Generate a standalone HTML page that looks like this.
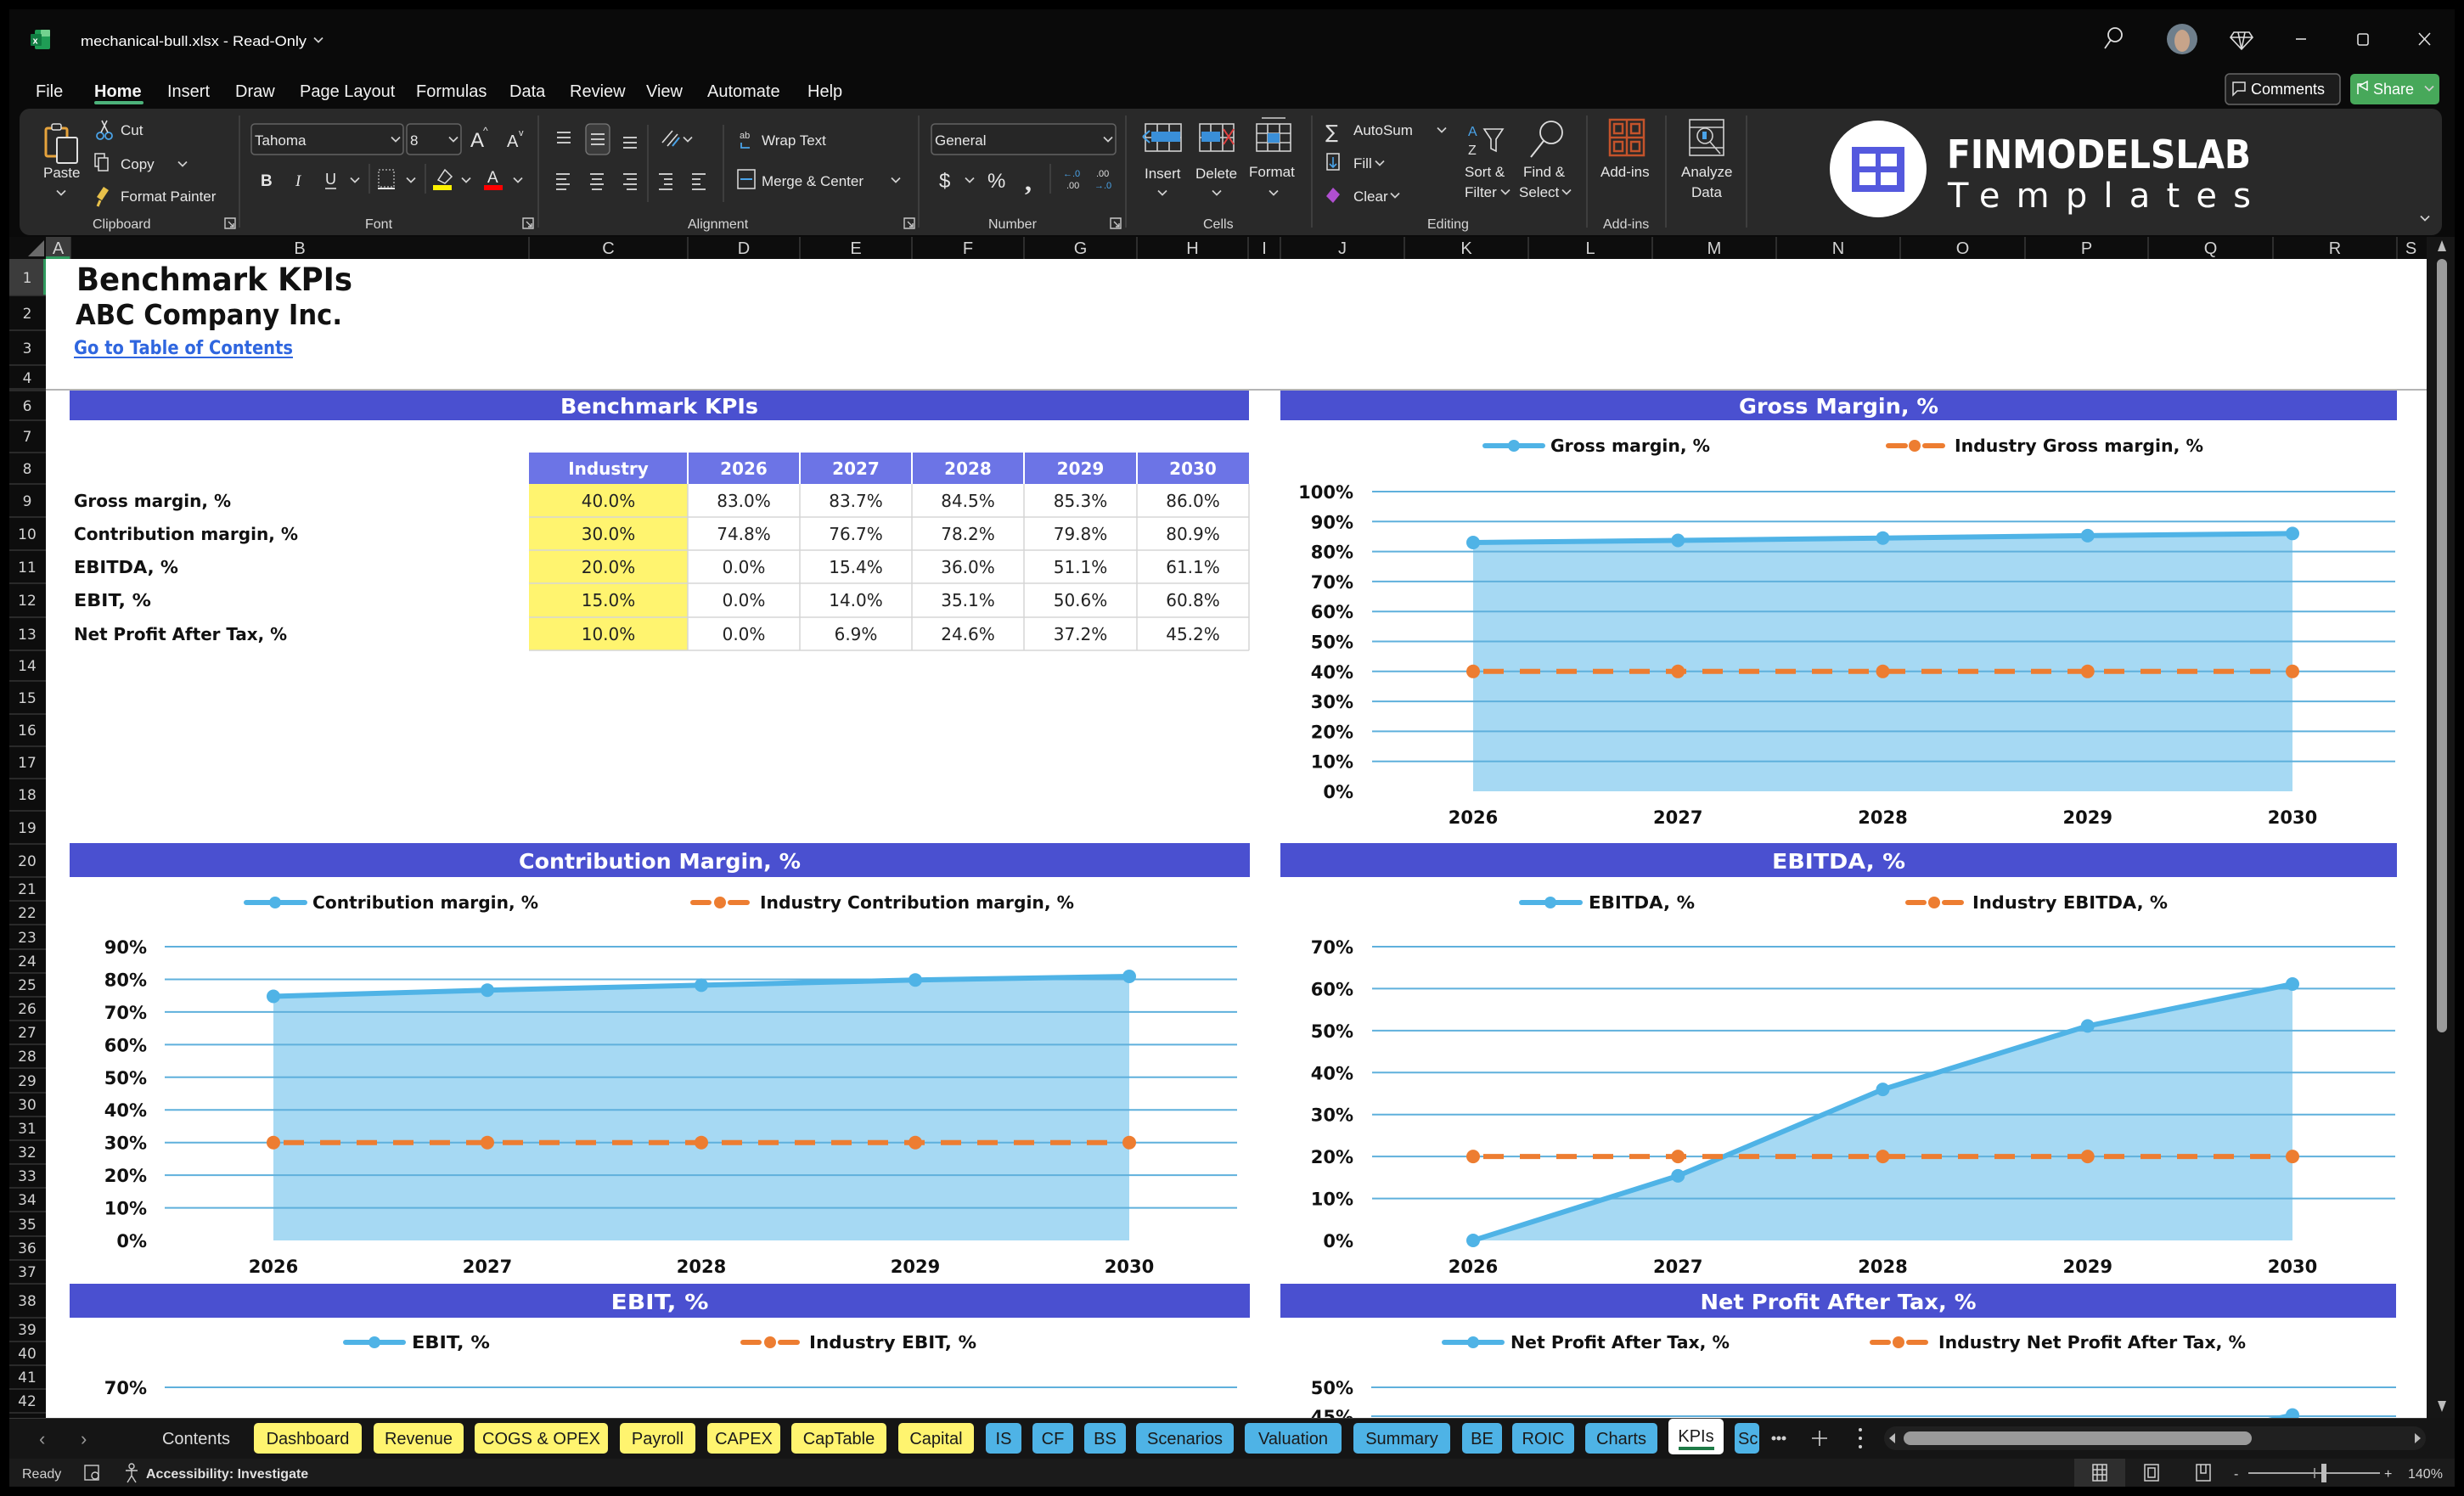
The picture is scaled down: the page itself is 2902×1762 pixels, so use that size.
<!DOCTYPE html>
<html><head><meta charset="utf-8">
<style>
html,body{margin:0;padding:0;background:#000;}
body{width:2902px;height:1762px;overflow:hidden;}
svg{display:block;}
.rb{font-family:"Liberation Sans",sans-serif;font-size:17px;fill:#e6e6e6;}
.gl{font-family:"Liberation Sans",sans-serif;font-size:16px;fill:#d6d6d6;}
.mn{font-family:"Liberation Sans",sans-serif;font-size:20px;fill:#f2f2f2;}
.hd{font-family:"Liberation Sans",sans-serif;font-size:20px;fill:#d2d2d2;text-anchor:middle;}
.rn{font-family:"DejaVu Sans",sans-serif;font-size:17px;fill:#d2d2d2;text-anchor:middle;}
.bt{font-family:"DejaVu Sans",sans-serif;font-weight:bold;font-size:25px;fill:#fff;}
.lg{font-family:"DejaVu Sans",sans-serif;font-weight:bold;font-size:20.5px;fill:#111;}
.yl{font-family:"DejaVu Sans",sans-serif;font-weight:bold;font-size:21px;fill:#111;text-anchor:end;}
.xl{font-family:"DejaVu Sans",sans-serif;font-weight:bold;font-size:21px;fill:#111;text-anchor:middle;}
.th{font-family:"DejaVu Sans",sans-serif;font-weight:bold;font-size:20px;fill:#fff;text-anchor:middle;}
.tv{font-family:"DejaVu Sans",sans-serif;font-size:20px;fill:#222;text-anchor:middle;}
.tl{font-family:"DejaVu Sans",sans-serif;font-weight:bold;font-size:20px;fill:#111;}
.tab{font-family:"Liberation Sans",sans-serif;font-size:20px;fill:#1a1a1a;text-anchor:middle;}
.st{font-family:"Liberation Sans",sans-serif;font-size:16px;fill:#d0d0d0;}
</style></head><body>
<svg width="2902" height="1762" viewBox="0 0 2902 1762" xmlns="http://www.w3.org/2000/svg">
<defs>
<path id="chev" d="M-5,-2.5 L0,2.5 L5,-2.5" fill="none" stroke="#d0d0d0" stroke-width="1.7"/>
<path id="lnch" d="M-6,-6 h12 v12 h-12 z M-2,-2 l6,6 M4,0 v4 h-4" fill="none" stroke="#c8c8c8" stroke-width="1.4"/>
<clipPath id="sheet"><rect x="54" y="305" width="2804" height="1365"/></clipPath>
</defs>

<!-- background -->
<rect x="0" y="0" width="2902" height="1762" fill="#000"/>
<rect x="11" y="11" width="2880" height="1740" fill="#0a0a0a"/>

<!-- title bar -->
<rect x="41" y="35" width="18" height="23" rx="2" fill="#1f9d55"/>
<rect x="48" y="35" width="11" height="8" rx="1" fill="#72d28f"/>
<rect x="36" y="40" width="13" height="14" rx="1" fill="#107c41"/>
<text x="38.5" y="51.5" font-family="Liberation Sans" font-size="11" font-weight="bold" fill="#fff">x</text>
<text x="95" y="54" font-family="Liberation Sans,sans-serif" font-size="17" fill="#fff" textLength="266" lengthAdjust="spacingAndGlyphs">mechanical-bull.xlsx  -  Read-Only</text>
<use href="#chev" x="375" y="47"/>
<circle cx="2491" cy="41" r="8" fill="none" stroke="#ddd" stroke-width="1.8"/>
<line x1="2486" y1="47" x2="2479" y2="57" stroke="#ddd" stroke-width="1.8"/>
<circle cx="2570" cy="46" r="18" fill="#6f7f8c"/>
<ellipse cx="2570" cy="48" rx="9" ry="13" fill="#c7a48a"/>
<path d="M2631,38 L2649,38 L2653,44 L2640,58 L2627,44 Z M2627,44 H2653 M2636,38 L2640,58 L2644,38" fill="none" stroke="#ddd" stroke-width="1.6"/>
<line x1="2704" y1="46" x2="2716" y2="46" stroke="#ddd" stroke-width="1.6"/>
<rect x="2777" y="40" width="12" height="13" rx="2" fill="none" stroke="#ddd" stroke-width="1.6"/>
<path d="M2849,39 L2862,53 M2862,39 L2849,53" stroke="#ddd" stroke-width="1.6"/>

<!-- menu -->
<text x="42" y="114" class="mn">File</text>
<text x="111" y="114" class="mn" font-weight="bold">Home</text>
<rect x="111" y="119" width="58" height="4" rx="2" fill="#4cb27a"/>
<text x="197" y="114" class="mn">Insert</text>
<text x="277" y="114" class="mn">Draw</text>
<text x="353" y="114" class="mn">Page Layout</text>
<text x="490" y="114" class="mn">Formulas</text>
<text x="600" y="114" class="mn">Data</text>
<text x="671" y="114" class="mn">Review</text>
<text x="761" y="114" class="mn">View</text>
<text x="833" y="114" class="mn">Automate</text>
<text x="951" y="114" class="mn">Help</text>

<rect x="2621" y="87" width="135" height="36" rx="5" fill="#1c1c1c" stroke="#666" stroke-width="1.5"/>
<path d="M2630,97 h14 v10 h-9 l-5,5 z" fill="none" stroke="#ddd" stroke-width="1.5"/>
<text x="2651" y="111" font-family="Liberation Sans,sans-serif" font-size="18" fill="#fff">Comments</text>
<rect x="2768" y="87" width="105" height="36" rx="5" fill="#47a85a"/>
<path d="M2777,111 v-12 h6 M2779,101 l9,-5 v10 z" fill="none" stroke="#fff" stroke-width="1.5"/>
<text x="2795" y="111" font-family="Liberation Sans,sans-serif" font-size="18" fill="#fff">Share</text>
<use href="#chev" x="2861" y="104" stroke="#fff"/>

<!-- ribbon -->
<rect x="23" y="128" width="2853" height="149" rx="12" fill="#292929"/>
<g stroke="#454545" stroke-width="1.5">
<line x1="282" y1="136" x2="282" y2="268"/><line x1="634" y1="136" x2="634" y2="268"/>
<line x1="1082" y1="136" x2="1082" y2="268"/><line x1="1326" y1="136" x2="1326" y2="268"/>
<line x1="1545" y1="136" x2="1545" y2="268"/><line x1="1869" y1="136" x2="1869" y2="268"/>
<line x1="1962" y1="136" x2="1962" y2="268"/><line x1="2057" y1="136" x2="2057" y2="268"/>
<line x1="763" y1="147" x2="763" y2="238"/><line x1="852" y1="147" x2="852" y2="238"/>
<line x1="435" y1="193" x2="435" y2="228"/><line x1="501" y1="193" x2="501" y2="228"/>
<line x1="1237" y1="193" x2="1237" y2="228"/>
</g>
<!-- clipboard -->
<rect x="54" y="151" width="25" height="33" rx="2" fill="none" stroke="#e6a33c" stroke-width="3"/>
<rect x="61" y="146" width="11" height="7" rx="2" fill="#292929" stroke="#ddd" stroke-width="1.5"/>
<rect x="67" y="162" width="24" height="30" rx="2" fill="#292929" stroke="#e0e0e0" stroke-width="2"/>
<text x="51" y="209" class="rb">Paste</text>
<use href="#chev" x="72" y="227"/>
<circle cx="118" cy="160" r="4" fill="none" stroke="#4aa3e8" stroke-width="1.8"/>
<circle cx="128" cy="160" r="4" fill="none" stroke="#4aa3e8" stroke-width="1.8"/>
<path d="M119,156 L126,142 M127,156 L120,142" stroke="#ddd" stroke-width="1.6"/>
<text x="142" y="159" class="rb">Cut</text>
<rect x="112" y="181" width="11" height="15" fill="none" stroke="#ddd" stroke-width="1.5"/>
<rect x="116" y="186" width="11" height="15" fill="#292929" stroke="#ddd" stroke-width="1.5"/>
<text x="142" y="199" class="rb">Copy</text>
<use href="#chev" x="215" y="193"/>
<path d="M114,232 l8,-12 l6,4 l-8,12 z" fill="#e8c14a"/>
<path d="M118,236 l-3,7" stroke="#e8c14a" stroke-width="3"/>
<text x="142" y="237" class="rb">Format Painter</text>
<text x="109" y="269" class="gl">Clipboard</text>
<use href="#lnch" x="271" y="263"/>
<!-- font -->
<rect x="296" y="146" width="179" height="36" rx="4" fill="#262626" stroke="#626262" stroke-width="1.5"/>
<text x="300" y="171" class="rb">Tahoma</text>
<use href="#chev" x="466" y="164"/>
<rect x="479" y="146" width="64" height="36" rx="4" fill="#262626" stroke="#626262" stroke-width="1.5"/>
<text x="483" y="171" class="rb">8</text>
<use href="#chev" x="534" y="164"/>
<text x="554" y="173" font-family="Liberation Sans" font-size="24" fill="#e6e6e6">A</text>
<text x="569" y="158" font-family="Liberation Sans" font-size="12" fill="#e6e6e6">^</text>
<text x="597" y="173" font-family="Liberation Sans" font-size="20" fill="#e6e6e6">A</text>
<text x="611" y="160" font-family="Liberation Sans" font-size="11" fill="#e6e6e6">v</text>
<text x="307" y="219" font-family="Liberation Sans" font-size="19" font-weight="bold" fill="#e6e6e6">B</text>
<text x="348" y="219" font-family="Liberation Serif" font-size="19" font-style="italic" fill="#e6e6e6">I</text>
<text x="383" y="217" font-family="Liberation Sans" font-size="18" fill="#e6e6e6">U</text>
<line x1="383" y1="222" x2="396" y2="222" stroke="#e6e6e6" stroke-width="1.5"/>
<use href="#chev" x="418" y="212"/>
<rect x="446" y="200" width="18" height="20" fill="none" stroke="#bbb" stroke-width="1.3" stroke-dasharray="2 2"/>
<line x1="445" y1="222" x2="465" y2="222" stroke="#e6e6e6" stroke-width="2"/>
<use href="#chev" x="484" y="212"/>
<path d="M516,212 l8,-12 l8,8 l-8,8 z" fill="none" stroke="#ddd" stroke-width="1.5"/>
<rect x="510" y="218" width="22" height="6" fill="#fff200"/>
<use href="#chev" x="549" y="212"/>
<text x="574" y="215" font-family="Liberation Sans" font-size="19" fill="#e6e6e6">A</text>
<rect x="570" y="218" width="22" height="6" fill="#f00"/>
<use href="#chev" x="610" y="212"/>
<text x="430" y="269" class="gl">Font</text>
<use href="#lnch" x="622" y="263"/>
<!-- alignment -->
<rect x="690" y="146" width="28" height="36" rx="5" fill="#3b3b3b" stroke="#777" stroke-width="1.3"/>
<g stroke="#ddd" stroke-width="1.8">
<path d="M656,156 h16 M656,162 h16 M656,168 h16"/>
<path d="M696,158 h16 M696,164 h16 M696,170 h16"/>
<path d="M734,162 h16 M734,168 h16 M734,174 h16"/>
<path d="M655,205 h16 M655,211 h12 M655,217 h16 M655,223 h12"/>
<path d="M695,205 h16 M697,211 h12 M695,217 h16 M697,223 h12"/>
<path d="M734,205 h16 M738,211 h12 M734,217 h16 M738,223 h12"/>
<path d="M776,205 h16 M782,211 h10 M782,217 h10 M776,223 h16"/>
<path d="M815,205 h16 M815,211 h10 M815,217 h10 M815,223 h16"/>
</g>
<path d="M780,168 l12,-14 M786,172 l12,-14" stroke="#ddd" stroke-width="1.6"/>
<path d="M792,172 l8,-10" stroke="#4aa3e8" stroke-width="2"/>
<use href="#chev" x="810" y="164"/>
<text x="871" y="163" font-family="Liberation Sans" font-size="11" fill="#ddd">ab</text>
<path d="M873,168 v6 h10" fill="none" stroke="#4aa3e8" stroke-width="1.8"/>
<text x="897" y="171" class="rb">Wrap Text</text>
<rect x="869" y="200" width="20" height="22" fill="none" stroke="#ddd" stroke-width="1.5"/>
<path d="M872,211 h14" stroke="#4aa3e8" stroke-width="2"/>
<text x="897" y="219" class="rb">Merge &amp; Center</text>
<use href="#chev" x="1055" y="212"/>
<text x="810" y="269" class="gl">Alignment</text>
<use href="#lnch" x="1071" y="263"/>
<!-- number -->
<rect x="1097" y="146" width="217" height="36" rx="4" fill="#262626" stroke="#626262" stroke-width="1.5"/>
<text x="1101" y="171" class="rb">General</text>
<use href="#chev" x="1305" y="164"/>
<text x="1106" y="221" font-family="Liberation Sans" font-size="24" fill="#e6e6e6">$</text>
<use href="#chev" x="1142" y="212"/>
<text x="1163" y="221" font-family="Liberation Sans" font-size="24" fill="#e6e6e6">%</text>
<text x="1207" y="224" font-family="Liberation Serif" font-size="32" font-weight="bold" fill="#e6e6e6">,</text>
<text x="1252" y="208" font-family="Liberation Sans" font-size="11" fill="#4aa3e8">←.0</text>
<text x="1256" y="222" font-family="Liberation Sans" font-size="11" fill="#ddd">.00</text>
<text x="1291" y="208" font-family="Liberation Sans" font-size="11" fill="#ddd">.00</text>
<text x="1289" y="222" font-family="Liberation Sans" font-size="11" fill="#4aa3e8">→.0</text>
<text x="1164" y="269" class="gl">Number</text>
<use href="#lnch" x="1314" y="263"/>
<!-- cells -->
<g fill="none" stroke="#cfcfcf" stroke-width="1.6">
<rect x="1349" y="146" width="42" height="32"/><path d="M1363,146 v32 M1377,146 v32 M1349,162 h42"/>
<rect x="1413" y="146" width="40" height="32"/><path d="M1426,146 v32 M1440,146 v32 M1413,162 h40"/>
<rect x="1480" y="146" width="40" height="32"/><path d="M1493,146 v32 M1507,146 v32 M1480,157 h40 M1480,168 h40 M1486,139 h28"/>
</g>
<rect x="1356" y="155" width="34" height="12" fill="#3a8fd8"/>
<path d="M1346,161 l8,-7 M1346,161 l8,7" stroke="#4aa3e8" stroke-width="2"/>
<rect x="1415" y="155" width="22" height="12" fill="#3a8fd8"/>
<path d="M1441,152 l12,18 M1453,152 l-12,18" stroke="#e04040" stroke-width="2"/>
<rect x="1493" y="157" width="14" height="11" fill="#3a8fd8"/>
<text x="1348" y="210" class="rb">Insert</text>
<text x="1408" y="210" class="rb">Delete</text>
<text x="1471" y="208" class="rb">Format</text>
<use href="#chev" x="1369" y="227"/><use href="#chev" x="1433" y="227"/><use href="#chev" x="1500" y="227"/>
<text x="1417" y="269" class="gl">Cells</text>
<!-- editing -->
<text x="1561" y="163" font-family="DejaVu Sans" font-size="22" fill="#ddd">∑</text>
<text x="1594" y="159" class="rb">AutoSum</text>
<use href="#chev" x="1698" y="153"/>
<rect x="1563" y="181" width="14" height="19" fill="none" stroke="#ddd" stroke-width="1.5"/>
<path d="M1570,185 v12 M1566,193 l4,4 l4,-4" fill="none" stroke="#4aa3e8" stroke-width="1.6"/>
<text x="1594" y="198" class="rb">Fill</text>
<use href="#chev" x="1625" y="192"/>
<path d="M1562,231 l8,-10 l8,8 l-8,10 z" fill="#b04fd0"/>
<text x="1594" y="237" class="rb">Clear</text>
<use href="#chev" x="1643" y="230"/>
<text x="1729" y="160" font-family="Liberation Sans" font-size="16" fill="#4aa3e8">A</text>
<text x="1729" y="182" font-family="Liberation Sans" font-size="16" fill="#ddd">Z</text>
<path d="M1748,152 h22 l-8,12 v14 l-6,-3 v-11 z" fill="none" stroke="#ddd" stroke-width="1.6"/>
<text x="1725" y="208" class="rb">Sort &amp;</text>
<text x="1725" y="232" class="rb">Filter</text>
<use href="#chev" x="1773" y="226"/>
<circle cx="1827" cy="156" r="13" fill="none" stroke="#ddd" stroke-width="1.8"/>
<line x1="1818" y1="166" x2="1803" y2="185" stroke="#ddd" stroke-width="2"/>
<text x="1794" y="208" class="rb">Find &amp;</text>
<text x="1789" y="232" class="rb">Select</text>
<use href="#chev" x="1845" y="226"/>
<text x="1681" y="269" class="gl">Editing</text>
<!-- add-ins -->
<g fill="none" stroke="#c4532b" stroke-width="2.5">
<rect x="1896" y="141" width="40" height="42"/><path d="M1916,141 v42 M1896,162 h40"/>
<rect x="1901" y="146" width="10" height="11"/><rect x="1921" y="146" width="10" height="11"/>
<rect x="1901" y="167" width="10" height="11"/><rect x="1921" y="167" width="10" height="11"/>
</g>
<text x="1885" y="208" class="rb">Add-ins</text>
<text x="1888" y="269" class="gl">Add-ins</text>
<g fill="none" stroke="#cfcfcf" stroke-width="1.6">
<rect x="1990" y="141" width="40" height="42"/><path d="M1990,150 h40 M1990,174 h40"/>
<circle cx="2008" cy="160" r="9"/><path d="M2014,167 l12,14"/>
</g>
<rect x="2005" y="155" width="5" height="9" fill="#4aa3e8"/>
<text x="1980" y="208" class="rb">Analyze</text>
<text x="1992" y="232" class="rb">Data</text>
<!-- logo -->
<circle cx="2212" cy="199" r="57" fill="#fff"/>
<rect x="2181" y="173" width="62" height="53" fill="#5459de"/>
<rect x="2190" y="181" width="19" height="15" fill="#fff"/><rect x="2215" y="181" width="19" height="15" fill="#fff"/>
<rect x="2190" y="203" width="19" height="15" fill="#fff"/><rect x="2215" y="203" width="19" height="15" fill="#fff"/>
<text x="2293" y="198" font-family="DejaVu Sans,sans-serif" font-weight="bold" font-size="46" fill="#fff" textLength="358" lengthAdjust="spacingAndGlyphs">FINMODELSLAB</text>
<text x="2294" y="244" font-family="DejaVu Sans,sans-serif" font-size="40" fill="#fff" textLength="357" lengthAdjust="spacing">Templates</text>
<use href="#chev" x="2856" y="257"/>

<!-- column headers -->
<rect x="11" y="279" width="2847" height="26" fill="#0d0d0d"/>
<polygon points="33,302 52,302 52,283" fill="#6a6a6a"/>
<rect x="54" y="279" width="29" height="26" fill="#3c3c3c"/>
<rect x="54" y="302" width="29" height="3" fill="#2f9a5e"/>
<g stroke="#3a3a3a" stroke-width="1.5">
<path d="M83,279v26M623,279v26M810,279v26M942,279v26M1074,279v26M1206,279v26M1339,279v26M1470,279v26M1508,279v26M1654,279v26M1800,279v26M1946,279v26M2092,279v26M2238,279v26M2385,279v26M2530,279v26M2677,279v26M2823,279v26"/>
</g>
<g>
<text x="68.5" y="299" class="hd">A</text><text x="353" y="299" class="hd">B</text><text x="716.5" y="299" class="hd">C</text>
<text x="876" y="299" class="hd">D</text><text x="1008" y="299" class="hd">E</text><text x="1140" y="299" class="hd">F</text>
<text x="1272.5" y="299" class="hd">G</text><text x="1404.5" y="299" class="hd">H</text><text x="1489" y="299" class="hd">I</text>
<text x="1581" y="299" class="hd">J</text><text x="1727" y="299" class="hd">K</text><text x="1873" y="299" class="hd">L</text>
<text x="2019" y="299" class="hd">M</text><text x="2165" y="299" class="hd">N</text><text x="2311.5" y="299" class="hd">O</text>
<text x="2457.5" y="299" class="hd">P</text><text x="2603.5" y="299" class="hd">Q</text><text x="2750" y="299" class="hd">R</text>
<text x="2839.5" y="299" class="hd">S</text>
</g>

<!-- row headers -->
<rect x="11" y="305" width="43" height="1365" fill="#0d0d0d"/>
<rect x="11" y="305" width="43" height="43" fill="#3c3c3c"/>
<rect x="51" y="305" width="3" height="43" fill="#2f9a5e"/>
<g stroke="#343434" stroke-width="1.5">
<path d="M11,348h43M11,389h43M11,430h43M11,458h43M11,460h43M11,495h43M11,533h43M11,570h43M11,609h43M11,648h43M11,687h43M11,727h43M11,766h43M11,802h43M11,841h43M11,879h43M11,917h43M11,955h43M11,994h43M11,1033h43M11,1061h43M11,1089h43M11,1118h43M11,1146h43M11,1174h43M11,1202h43M11,1230h43M11,1258h43M11,1287h43M11,1315h43M11,1343h43M11,1371h43M11,1399h43M11,1427h43M11,1456h43M11,1484h43M11,1512h43M11,1552h43M11,1580h43M11,1608h43M11,1636h43M11,1664h43"/>
</g>
<g>
<text x="32" y="333" class="rn">1</text><text x="32" y="375" class="rn">2</text><text x="32" y="416" class="rn">3</text>
<text x="32" y="451" class="rn">4</text><text x="32" y="484" class="rn">6</text><text x="32" y="520" class="rn">7</text>
<text x="32" y="558" class="rn">8</text><text x="32" y="596" class="rn">9</text><text x="32" y="635" class="rn">10</text>
<text x="32" y="674" class="rn">11</text><text x="32" y="713" class="rn">12</text><text x="32" y="753" class="rn">13</text>
<text x="32" y="790" class="rn">14</text><text x="32" y="828" class="rn">15</text><text x="32" y="866" class="rn">16</text>
<text x="32" y="904" class="rn">17</text><text x="32" y="942" class="rn">18</text><text x="32" y="981" class="rn">19</text>
<text x="32" y="1020" class="rn">20</text><text x="32" y="1053" class="rn">21</text><text x="32" y="1081" class="rn">22</text>
<text x="32" y="1110" class="rn">23</text><text x="32" y="1138" class="rn">24</text><text x="32" y="1166" class="rn">25</text>
<text x="32" y="1194" class="rn">26</text><text x="32" y="1222" class="rn">27</text><text x="32" y="1250" class="rn">28</text>
<text x="32" y="1279" class="rn">29</text><text x="32" y="1307" class="rn">30</text><text x="32" y="1335" class="rn">31</text>
<text x="32" y="1363" class="rn">32</text><text x="32" y="1391" class="rn">33</text><text x="32" y="1419" class="rn">34</text>
<text x="32" y="1448" class="rn">35</text><text x="32" y="1476" class="rn">36</text><text x="32" y="1504" class="rn">37</text>
<text x="32" y="1538" class="rn">38</text><text x="32" y="1572" class="rn">39</text><text x="32" y="1600" class="rn">40</text>
<text x="32" y="1628" class="rn">41</text><text x="32" y="1656" class="rn">42</text>
</g>

<!-- sheet -->
<rect x="54" y="305" width="2804" height="1365" fill="#fff"/>
<g clip-path="url(#sheet)">
<rect x="54" y="458" width="2804" height="2" fill="#b4b4b4"/>

<text x="90" y="342" font-family="DejaVu Sans,sans-serif" font-weight="bold" font-size="37" fill="#111" textLength="325" lengthAdjust="spacingAndGlyphs">Benchmark KPIs</text>
<text x="89" y="382" font-family="DejaVu Sans,sans-serif" font-weight="bold" font-size="33" fill="#111" textLength="314" lengthAdjust="spacingAndGlyphs">ABC Company Inc.</text>
<text x="87" y="417" font-family="DejaVu Sans,sans-serif" font-weight="bold" font-size="22" fill="#2f66df" textLength="258" lengthAdjust="spacingAndGlyphs">Go to Table of Contents</text>
<rect x="87" y="420" width="258" height="2" fill="#2f66df"/>

<!-- Benchmark table -->
<rect x="82" y="460" width="1389" height="35" fill="#4a50d0"/>
<text x="776.5" y="487" class="bt" text-anchor="middle" textLength="233" lengthAdjust="spacingAndGlyphs">Benchmark KPIs</text>
<rect x="623" y="533" width="848" height="37" fill="#6c74e6"/>
<rect x="623" y="570" width="187" height="196" fill="#fff46f"/>
<g stroke="#fff" stroke-width="2"><path d="M810,533v37M942,533v37M1074,533v37M1206,533v37M1339,533v37"/></g>
<g stroke="#d6d6d6" stroke-width="1.5"><path d="M623,609h848M623,648h848M623,687h848M623,727h848M623,766h848M810,570v196M942,570v196M1074,570v196M1206,570v196M1339,570v196M1471,570v196"/></g>
<text x="716.5" y="559" class="th">Industry</text><text x="876" y="559" class="th">2026</text><text x="1008" y="559" class="th">2027</text>
<text x="1140" y="559" class="th">2028</text><text x="1272.5" y="559" class="th">2029</text><text x="1405" y="559" class="th">2030</text>
<text x="87" y="597" class="tl" textLength="185" lengthAdjust="spacingAndGlyphs">Gross margin, %</text>
<text x="87" y="636" class="tl" textLength="264" lengthAdjust="spacingAndGlyphs">Contribution margin, %</text>
<text x="87" y="675" class="tl" textLength="123" lengthAdjust="spacingAndGlyphs">EBITDA, %</text>
<text x="87" y="714" class="tl" textLength="91" lengthAdjust="spacingAndGlyphs">EBIT, %</text>
<text x="87" y="754" class="tl" textLength="251" lengthAdjust="spacingAndGlyphs">Net Profit After Tax, %</text>
<g>
<text x="716.5" y="597" class="tv">40.0%</text><text x="876" y="597" class="tv">83.0%</text><text x="1008" y="597" class="tv">83.7%</text><text x="1140" y="597" class="tv">84.5%</text><text x="1272.5" y="597" class="tv">85.3%</text><text x="1405" y="597" class="tv">86.0%</text>
<text x="716.5" y="636" class="tv">30.0%</text><text x="876" y="636" class="tv">74.8%</text><text x="1008" y="636" class="tv">76.7%</text><text x="1140" y="636" class="tv">78.2%</text><text x="1272.5" y="636" class="tv">79.8%</text><text x="1405" y="636" class="tv">80.9%</text>
<text x="716.5" y="675" class="tv">20.0%</text><text x="876" y="675" class="tv">0.0%</text><text x="1008" y="675" class="tv">15.4%</text><text x="1140" y="675" class="tv">36.0%</text><text x="1272.5" y="675" class="tv">51.1%</text><text x="1405" y="675" class="tv">61.1%</text>
<text x="716.5" y="714" class="tv">15.0%</text><text x="876" y="714" class="tv">0.0%</text><text x="1008" y="714" class="tv">14.0%</text><text x="1140" y="714" class="tv">35.1%</text><text x="1272.5" y="714" class="tv">50.6%</text><text x="1405" y="714" class="tv">60.8%</text>
<text x="716.5" y="754" class="tv">10.0%</text><text x="876" y="754" class="tv">0.0%</text><text x="1008" y="754" class="tv">6.9%</text><text x="1140" y="754" class="tv">24.6%</text><text x="1272.5" y="754" class="tv">37.2%</text><text x="1405" y="754" class="tv">45.2%</text>
</g>

<!-- ===== Gross Margin chart ===== -->
<rect x="1508" y="460" width="1315" height="35" fill="#4a50d0"/>
<text x="2165.5" y="487" class="bt" text-anchor="middle" textLength="235" lengthAdjust="spacingAndGlyphs">Gross Margin, %</text>
<line x1="1749" y1="525" x2="1817" y2="525" stroke="#4fb3e6" stroke-width="6" stroke-linecap="round"/>
<circle cx="1783" cy="525" r="7" fill="#4fb3e6"/>
<text x="1826" y="532" class="lg" textLength="188" lengthAdjust="spacingAndGlyphs">Gross margin, %</text>
<path d="M2224,525h20M2267,525h21" stroke="#ed7d31" stroke-width="6" stroke-linecap="round"/>
<circle cx="2255" cy="525" r="7" fill="#ed7d31"/>
<text x="2302" y="532" class="lg" textLength="293" lengthAdjust="spacingAndGlyphs">Industry Gross margin, %</text>
<polygon points="1735,932 1735,639 1976.25,636.5 2217.5,633.7 2458.75,630.9 2700,628.4 2700,932" fill="#a6d9f3"/>
<g stroke="#5fb0dc" stroke-width="2"><path d="M1616,896.7H2821M1616,861.4H2821M1616,826.1H2821M1616,790.8H2821M1616,755.5H2821M1616,720.2H2821M1616,684.9H2821M1616,649.6H2821M1616,614.3H2821M1616,579H2821"/></g>
<polyline points="1735,639 1976.25,636.5 2217.5,633.7 2458.75,630.9 2700,628.4" fill="none" stroke="#4fb3e6" stroke-width="6"/>
<g fill="#4fb3e6"><circle cx="1735" cy="639" r="8"/><circle cx="1976.25" cy="636.5" r="8"/><circle cx="2217.5" cy="633.7" r="8"/><circle cx="2458.75" cy="630.9" r="8"/><circle cx="2700" cy="628.4" r="8"/></g>
<line x1="1735" y1="790.8" x2="2700" y2="790.8" stroke="#ed7d31" stroke-width="6" stroke-dasharray="24 19" stroke-dashoffset="-12"/>
<g fill="#ed7d31"><circle cx="1735" cy="790.8" r="8"/><circle cx="1976.25" cy="790.8" r="8"/><circle cx="2217.5" cy="790.8" r="8"/><circle cx="2458.75" cy="790.8" r="8"/><circle cx="2700" cy="790.8" r="8"/></g>
<g>
<text x="1594" y="587" class="yl">100%</text><text x="1594" y="622.3" class="yl">90%</text><text x="1594" y="657.6" class="yl">80%</text>
<text x="1594" y="692.9" class="yl">70%</text><text x="1594" y="728.2" class="yl">60%</text><text x="1594" y="763.5" class="yl">50%</text>
<text x="1594" y="798.8" class="yl">40%</text><text x="1594" y="834.1" class="yl">30%</text><text x="1594" y="869.4" class="yl">20%</text>
<text x="1594" y="904.7" class="yl">10%</text><text x="1594" y="940" class="yl">0%</text>
<text x="1735" y="970" class="xl">2026</text><text x="1976.25" y="970" class="xl">2027</text><text x="2217.5" y="970" class="xl">2028</text>
<text x="2458.75" y="970" class="xl">2029</text><text x="2700" y="970" class="xl">2030</text>
</g>

<!-- ===== Contribution Margin chart ===== -->
<rect x="82" y="993" width="1390" height="40" fill="#4a50d0"/>
<text x="777" y="1023" class="bt" text-anchor="middle" textLength="332" lengthAdjust="spacingAndGlyphs">Contribution Margin, %</text>
<line x1="290" y1="1063" x2="359" y2="1063" stroke="#4fb3e6" stroke-width="6" stroke-linecap="round"/>
<circle cx="324" cy="1063" r="7" fill="#4fb3e6"/>
<text x="368" y="1070" class="lg" textLength="266" lengthAdjust="spacingAndGlyphs">Contribution margin, %</text>
<path d="M816,1063h19M860,1063h20" stroke="#ed7d31" stroke-width="6" stroke-linecap="round"/>
<circle cx="848" cy="1063" r="7" fill="#ed7d31"/>
<text x="895" y="1070" class="lg" textLength="370" lengthAdjust="spacingAndGlyphs">Industry Contribution margin, %</text>
<polygon points="322,1461 322,1173.5 574,1166.2 826,1160.4 1078,1154.2 1330,1150 1330,1461" fill="#a6d9f3"/>
<g stroke="#5fb0dc" stroke-width="2"><path d="M194,1422.6H1457M194,1384.1H1457M194,1345.7H1457M194,1307.2H1457M194,1268.8H1457M194,1230.4H1457M194,1191.9H1457M194,1153.5H1457M194,1115H1457"/></g>
<polyline points="322,1173.5 574,1166.2 826,1160.4 1078,1154.2 1330,1150" fill="none" stroke="#4fb3e6" stroke-width="6"/>
<g fill="#4fb3e6"><circle cx="322" cy="1173.5" r="8"/><circle cx="574" cy="1166.2" r="8"/><circle cx="826" cy="1160.4" r="8"/><circle cx="1078" cy="1154.2" r="8"/><circle cx="1330" cy="1150" r="8"/></g>
<line x1="322" y1="1345.7" x2="1330" y2="1345.7" stroke="#ed7d31" stroke-width="6" stroke-dasharray="24 19" stroke-dashoffset="-12"/>
<g fill="#ed7d31"><circle cx="322" cy="1345.7" r="8"/><circle cx="574" cy="1345.7" r="8"/><circle cx="826" cy="1345.7" r="8"/><circle cx="1078" cy="1345.7" r="8"/><circle cx="1330" cy="1345.7" r="8"/></g>
<g>
<text x="173" y="1123" class="yl">90%</text><text x="173" y="1161.5" class="yl">80%</text><text x="173" y="1199.9" class="yl">70%</text>
<text x="173" y="1238.4" class="yl">60%</text><text x="173" y="1276.8" class="yl">50%</text><text x="173" y="1315.2" class="yl">40%</text>
<text x="173" y="1353.7" class="yl">30%</text><text x="173" y="1392.1" class="yl">20%</text><text x="173" y="1430.6" class="yl">10%</text>
<text x="173" y="1469" class="yl">0%</text>
<text x="322" y="1499" class="xl">2026</text><text x="574" y="1499" class="xl">2027</text><text x="826" y="1499" class="xl">2028</text>
<text x="1078" y="1499" class="xl">2029</text><text x="1330" y="1499" class="xl">2030</text>
</g>

<!-- ===== EBITDA chart ===== -->
<rect x="1508" y="993" width="1315" height="40" fill="#4a50d0"/>
<text x="2165.5" y="1023" class="bt" text-anchor="middle" textLength="157" lengthAdjust="spacingAndGlyphs">EBITDA, %</text>
<line x1="1792" y1="1063" x2="1861" y2="1063" stroke="#4fb3e6" stroke-width="6" stroke-linecap="round"/>
<circle cx="1826" cy="1063" r="7" fill="#4fb3e6"/>
<text x="1871" y="1070" class="lg" textLength="125" lengthAdjust="spacingAndGlyphs">EBITDA, %</text>
<path d="M2247,1063h19M2290,1063h20" stroke="#ed7d31" stroke-width="6" stroke-linecap="round"/>
<circle cx="2278" cy="1063" r="7" fill="#ed7d31"/>
<text x="2323" y="1070" class="lg" textLength="230" lengthAdjust="spacingAndGlyphs">Industry EBITDA, %</text>
<polygon points="1735,1461 1976.25,1384.9 2217.5,1283.1 2458.75,1208.4 2700,1159 2700,1461" fill="#a6d9f3"/>
<g stroke="#5fb0dc" stroke-width="2"><path d="M1616,1411.6H2821M1616,1362.1H2821M1616,1312.7H2821M1616,1263.3H2821M1616,1213.9H2821M1616,1164.4H2821M1616,1115H2821"/></g>
<polyline points="1735,1461 1976.25,1384.9 2217.5,1283.1 2458.75,1208.4 2700,1159" fill="none" stroke="#4fb3e6" stroke-width="6" stroke-linejoin="round"/>
<g fill="#4fb3e6"><circle cx="1735" cy="1461" r="8"/><circle cx="1976.25" cy="1384.9" r="8"/><circle cx="2217.5" cy="1283.1" r="8"/><circle cx="2458.75" cy="1208.4" r="8"/><circle cx="2700" cy="1159" r="8"/></g>
<line x1="1735" y1="1362.1" x2="2700" y2="1362.1" stroke="#ed7d31" stroke-width="6" stroke-dasharray="24 19" stroke-dashoffset="-12"/>
<g fill="#ed7d31"><circle cx="1735" cy="1362.1" r="8"/><circle cx="1976.25" cy="1362.1" r="8"/><circle cx="2217.5" cy="1362.1" r="8"/><circle cx="2458.75" cy="1362.1" r="8"/><circle cx="2700" cy="1362.1" r="8"/></g>
<g>
<text x="1594" y="1123" class="yl">70%</text><text x="1594" y="1172.4" class="yl">60%</text><text x="1594" y="1221.9" class="yl">50%</text>
<text x="1594" y="1271.3" class="yl">40%</text><text x="1594" y="1320.7" class="yl">30%</text><text x="1594" y="1370.1" class="yl">20%</text>
<text x="1594" y="1419.6" class="yl">10%</text><text x="1594" y="1469" class="yl">0%</text>
<text x="1735" y="1499" class="xl">2026</text><text x="1976.25" y="1499" class="xl">2027</text><text x="2217.5" y="1499" class="xl">2028</text>
<text x="2458.75" y="1499" class="xl">2029</text><text x="2700" y="1499" class="xl">2030</text>
</g>

<!-- ===== EBIT chart ===== -->
<rect x="82" y="1512" width="1390" height="40" fill="#4a50d0"/>
<text x="777" y="1542" class="bt" text-anchor="middle" textLength="115" lengthAdjust="spacingAndGlyphs">EBIT, %</text>
<line x1="407" y1="1581" x2="475" y2="1581" stroke="#4fb3e6" stroke-width="6" stroke-linecap="round"/>
<circle cx="441" cy="1581" r="7" fill="#4fb3e6"/>
<text x="485" y="1588" class="lg" textLength="92" lengthAdjust="spacingAndGlyphs">EBIT, %</text>
<path d="M875,1581h19M919,1581h20" stroke="#ed7d31" stroke-width="6" stroke-linecap="round"/>
<circle cx="907" cy="1581" r="7" fill="#ed7d31"/>
<text x="953" y="1588" class="lg" textLength="197" lengthAdjust="spacingAndGlyphs">Industry EBIT, %</text>
<line x1="194" y1="1634" x2="1457" y2="1634" stroke="#5fb0dc" stroke-width="2"/>
<text x="173" y="1642" class="yl">70%</text>

<!-- ===== Net Profit chart ===== -->
<rect x="1508" y="1512" width="1314" height="40" fill="#4a50d0"/>
<text x="2165" y="1542" class="bt" text-anchor="middle" textLength="325" lengthAdjust="spacingAndGlyphs">Net Profit After Tax, %</text>
<line x1="1701" y1="1581" x2="1769" y2="1581" stroke="#4fb3e6" stroke-width="6" stroke-linecap="round"/>
<circle cx="1735" cy="1581" r="7" fill="#4fb3e6"/>
<text x="1779" y="1588" class="lg" textLength="258" lengthAdjust="spacingAndGlyphs">Net Profit After Tax, %</text>
<path d="M2205,1581h19M2248,1581h20" stroke="#ed7d31" stroke-width="6" stroke-linecap="round"/>
<circle cx="2236" cy="1581" r="7" fill="#ed7d31"/>
<text x="2283" y="1588" class="lg" textLength="362" lengthAdjust="spacingAndGlyphs">Industry Net Profit After Tax, %</text>
<polygon points="2458.75,1721 2700,1666.6 2700,1760 2458.75,1760" fill="#a6d9f3"/>
<line x1="1615" y1="1634" x2="2822" y2="1634" stroke="#5fb0dc" stroke-width="2"/>
<line x1="1615" y1="1668" x2="2822" y2="1668" stroke="#5fb0dc" stroke-width="2"/>
<line x1="2458.75" y1="1721" x2="2700" y2="1666.6" stroke="#4fb3e6" stroke-width="6"/>
<circle cx="2700" cy="1666.6" r="8" fill="#4fb3e6"/>
<text x="1594" y="1642" class="yl">50%</text>
<text x="1594" y="1676" class="yl">45%</text>
</g>

<!-- vertical scrollbar -->
<rect x="2858" y="279" width="33" height="1391" fill="#161616"/>
<polygon points="2876,283 2871,296 2881,296" fill="#bdbdbd"/>
<rect x="2870" y="305" width="12" height="911" rx="6" fill="#9b9b9b"/>
<polygon points="2876,1663 2871,1650 2881,1650" fill="#bdbdbd"/>

<!-- tab bar -->
<rect x="11" y="1670" width="2880" height="48" fill="#151515"/>
<line x1="11" y1="1670.5" x2="2858" y2="1670.5" stroke="#3a3a3a" stroke-width="1"/>
<text x="46" y="1702" font-family="Liberation Sans" font-size="22" fill="#9a9a9a">‹</text>
<text x="95" y="1702" font-family="Liberation Sans" font-size="22" fill="#9a9a9a">›</text>
<text x="231" y="1701" class="tab" fill="#ddd" style="fill:#dcdcdc">Contents</text>
<g fill="#fff46f">
<rect x="299" y="1676" width="127" height="36" rx="5"/><rect x="440" y="1676" width="106" height="36" rx="5"/>
<rect x="559" y="1676" width="157" height="36" rx="5"/><rect x="730" y="1676" width="89" height="36" rx="5"/>
<rect x="833" y="1676" width="86" height="36" rx="5"/><rect x="932" y="1676" width="112" height="36" rx="5"/>
<rect x="1058" y="1676" width="89" height="36" rx="5"/>
</g>
<g fill="#4eb3e6">
<rect x="1161" y="1676" width="42" height="36" rx="5"/><rect x="1216" y="1676" width="48" height="36" rx="5"/>
<rect x="1277" y="1676" width="49" height="36" rx="5"/><rect x="1338" y="1676" width="115" height="36" rx="5"/>
<rect x="1466" y="1676" width="114" height="36" rx="5"/><rect x="1594" y="1676" width="114" height="36" rx="5"/>
<rect x="1722" y="1676" width="47" height="36" rx="5"/><rect x="1781" y="1676" width="73" height="36" rx="5"/>
<rect x="1867" y="1676" width="85" height="36" rx="5"/><rect x="2043" y="1676" width="29" height="36" rx="5"/>
</g>
<rect x="1965" y="1671" width="65" height="42" rx="5" fill="#fff"/>
<rect x="1977" y="1704" width="42" height="4" fill="#1e7a46"/>
<g>
<text x="362.5" y="1701" class="tab">Dashboard</text><text x="493" y="1701" class="tab">Revenue</text>
<text x="637.5" y="1701" class="tab">COGS &amp; OPEX</text><text x="774.5" y="1701" class="tab">Payroll</text>
<text x="876" y="1701" class="tab">CAPEX</text><text x="988" y="1701" class="tab">CapTable</text>
<text x="1102.5" y="1701" class="tab">Capital</text><text x="1182" y="1701" class="tab">IS</text>
<text x="1240" y="1701" class="tab">CF</text><text x="1301.5" y="1701" class="tab">BS</text>
<text x="1395.5" y="1701" class="tab">Scenarios</text><text x="1523" y="1701" class="tab">Valuation</text>
<text x="1651" y="1701" class="tab">Summary</text><text x="1745.5" y="1701" class="tab">BE</text>
<text x="1817.5" y="1701" class="tab">ROIC</text><text x="1909.5" y="1701" class="tab">Charts</text>
<text x="1997.5" y="1698" class="tab">KPIs</text>
<text x="2047" y="1701" font-family="Liberation Sans" font-size="20" fill="#1a1a1a">Sc</text>
</g>
<rect x="2073" y="1672" width="140" height="44" fill="#151515"/>
<g fill="#d0d0d0"><circle cx="2089" cy="1694" r="2.5"/><circle cx="2095" cy="1694" r="2.5"/><circle cx="2101" cy="1694" r="2.5"/>
<circle cx="2191" cy="1684" r="2"/><circle cx="2191" cy="1694" r="2"/><circle cx="2191" cy="1704" r="2"/></g>
<path d="M2143,1685v18M2134,1694h18" stroke="#d0d0d0" stroke-width="1.6"/>
<rect x="2219" y="1680" width="638" height="28" rx="14" fill="#202020"/>
<rect x="2242" y="1686" width="410" height="16" rx="8" fill="#9a9a9a"/>
<polygon points="2225,1694 2232,1688 2232,1700" fill="#bbb"/>
<polygon points="2851,1694 2844,1688 2844,1700" fill="#bbb"/>

<!-- status bar -->
<rect x="11" y="1718" width="2880" height="33" fill="#1b1b1b"/>
<text x="26" y="1741" class="st">Ready</text>
<rect x="100" y="1726" width="16" height="17" fill="none" stroke="#ccc" stroke-width="1.4"/>
<circle cx="112" cy="1738" r="4" fill="none" stroke="#ccc" stroke-width="1.4"/>
<circle cx="155" cy="1727" r="3" fill="none" stroke="#ccc" stroke-width="1.4"/>
<path d="M148,1732h14M155,1730v8l-5,8M155,1738l5,8" fill="none" stroke="#ccc" stroke-width="1.4"/>
<text x="172" y="1741" class="st" font-weight="bold" style="fill:#e0e0e0;font-weight:bold">Accessibility: Investigate</text>
<rect x="2443" y="1718" width="60" height="33" fill="#2e2e2e"/>
<g fill="none" stroke="#d0d0d0" stroke-width="1.5">
<rect x="2465" y="1725" width="16" height="19"/><path d="M2465,1731h16M2465,1737h16M2470,1725v19M2476,1725v19"/>
<rect x="2526" y="1725" width="16" height="19"/><rect x="2530" y="1729" width="8" height="11"/>
<rect x="2587" y="1725" width="16" height="19"/><path d="M2592,1725v10h6v-10"/>
</g>
<text x="2631" y="1741" class="st">-</text>
<line x1="2648" y1="1735" x2="2803" y2="1735" stroke="#a8a8a8" stroke-width="2"/>
<line x1="2726" y1="1729" x2="2726" y2="1741" stroke="#a8a8a8" stroke-width="1.5"/>
<rect x="2734" y="1724" width="6" height="22" fill="#bdbdbd"/>
<text x="2808" y="1741" class="st">+</text>
<text x="2836" y="1741" class="st">140%</text>
</svg>
</body></html>
